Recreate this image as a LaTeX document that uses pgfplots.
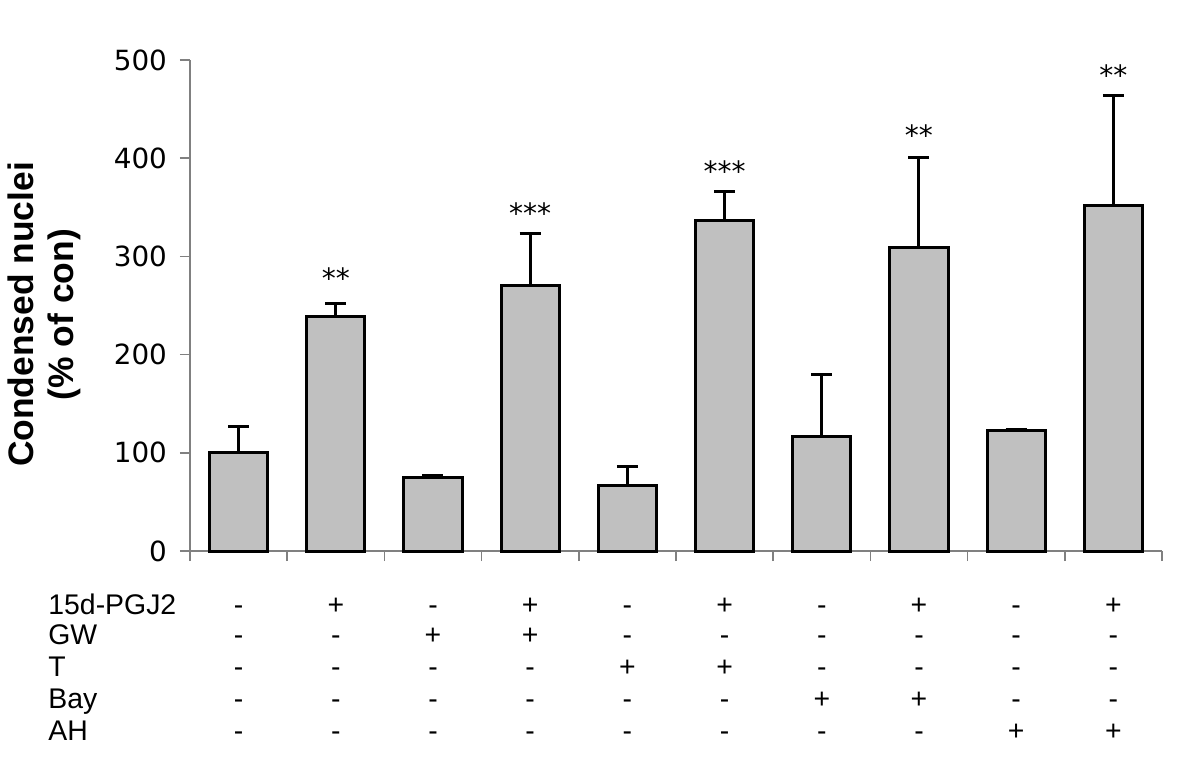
\documentclass[border=0pt]{standalone}
\usepackage{fontspec}
\setmainfont{Liberation Sans}
\newfontfamily\dejavu{DejaVu Sans}
\usepackage{pgfplots}
\pgfplotsset{compat=1.18}
\definecolor{bargray}{RGB}{192,192,192}
\definecolor{axgray}{RGB}{128,128,128}
\newcommand\tf{\fontsize{14.2}{16}\selectfont}
\tikzset{tb/.style={anchor=base, inner sep=0pt, font=\tf}}
\begin{document}
\begin{tikzpicture}
\path[use as bounding box] (-95pt,-105pt) rectangle (505pt,275.5pt);
\begin{axis}[
  at={(0,0)}, anchor=south west,
  scale only axis, width=486pt, height=245.5pt,
  xmin=-0.5, xmax=9.5, ymin=0, ymax=500,
  axis x line*=bottom, axis y line*=left,
  axis line style={-, draw=axgray, line width=0.8pt},
  xtick={-0.5,0.5,...,9.5}, xticklabel=\empty,
  ytick={0,100,...,500},
  tick align=outside, major tick length=5pt,
  tick style={draw=axgray, line width=0.8pt},
  /pgf/number format/assume math mode=true,
  yticklabel style={font=\dejavu\fontsize{13.9}{16}\selectfont, text=black, xshift=-3pt},
  ybar, bar width=0.6,
  clip=false,
]
\addplot[fill=bargray, draw=black, line width=1.5pt,
  error bars/.cd, y dir=plus, y explicit,
  error bar style={line width=1.5pt, black},
  error mark options={rotate=90, mark size=5.25pt, line width=1.5pt, black}]
coordinates {
 (0,100.5) +- (0,26)
 (1,238.3) +- (0,14)
 (2,75)    +- (0,2)
 (3,270)   +- (0,53.5)
 (4,66.2)  +- (0,19.5)
 (5,337)   +- (0,29.5)
 (6,116.1) +- (0,64)
 (7,308.6) +- (0,92.5)
 (8,123.2) +- (0,1)
 (9,352.3) +- (0,111.5)
};
% significance marks
\node[anchor=base, font=\dejavu\fontsize{14}{16}\selectfont] at (axis cs:1,267.8) {**};
\node[anchor=base, font=\dejavu\fontsize{14}{16}\selectfont] at (axis cs:3,334) {***};
\node[anchor=base, font=\dejavu\fontsize{14}{16}\selectfont] at (axis cs:5,375.8) {***};
\node[anchor=base, font=\dejavu\fontsize{14}{16}\selectfont] at (axis cs:7,413.4) {**};
\node[anchor=base, font=\dejavu\fontsize{14}{16}\selectfont] at (axis cs:9,474.5) {**};
% y label
\node[rotate=90, align=center, font=\bfseries\fontsize{17.7}{20}\selectfont] at (axis cs:-2.002,240.8) {Condensed nuclei\\(\% of con)};
% treatment table: row labels
\node[tb, anchor=base west] at (axis cs:-1.961,-64.2) {15d-PGJ2};
\node[tb, anchor=base west] at (axis cs:-1.961,-95.7) {GW};
\node[tb, anchor=base west] at (axis cs:-1.961,-128.3) {T};
\node[tb, anchor=base west] at (axis cs:-1.961,-159.9) {Bay};
\node[tb, anchor=base west] at (axis cs:-1.961,-192.5) {AH};
% row 15d-PGJ2
\node[tb] at (axis cs:0,-64.2) {-};
\node[tb] at (axis cs:1,-64.2) {+};
\node[tb] at (axis cs:2,-64.2) {-};
\node[tb] at (axis cs:3,-64.2) {+};
\node[tb] at (axis cs:4,-64.2) {-};
\node[tb] at (axis cs:5,-64.2) {+};
\node[tb] at (axis cs:6,-64.2) {-};
\node[tb] at (axis cs:7,-64.2) {+};
\node[tb] at (axis cs:8,-64.2) {-};
\node[tb] at (axis cs:9,-64.2) {+};
% row GW
\node[tb] at (axis cs:0,-95.7) {-};
\node[tb] at (axis cs:1,-95.7) {-};
\node[tb] at (axis cs:2,-95.7) {+};
\node[tb] at (axis cs:3,-95.7) {+};
\node[tb] at (axis cs:4,-95.7) {-};
\node[tb] at (axis cs:5,-95.7) {-};
\node[tb] at (axis cs:6,-95.7) {-};
\node[tb] at (axis cs:7,-95.7) {-};
\node[tb] at (axis cs:8,-95.7) {-};
\node[tb] at (axis cs:9,-95.7) {-};
% row T
\node[tb] at (axis cs:0,-128.3) {-};
\node[tb] at (axis cs:1,-128.3) {-};
\node[tb] at (axis cs:2,-128.3) {-};
\node[tb] at (axis cs:3,-128.3) {-};
\node[tb] at (axis cs:4,-128.3) {+};
\node[tb] at (axis cs:5,-128.3) {+};
\node[tb] at (axis cs:6,-128.3) {-};
\node[tb] at (axis cs:7,-128.3) {-};
\node[tb] at (axis cs:8,-128.3) {-};
\node[tb] at (axis cs:9,-128.3) {-};
% row Bay
\node[tb] at (axis cs:0,-159.9) {-};
\node[tb] at (axis cs:1,-159.9) {-};
\node[tb] at (axis cs:2,-159.9) {-};
\node[tb] at (axis cs:3,-159.9) {-};
\node[tb] at (axis cs:4,-159.9) {-};
\node[tb] at (axis cs:5,-159.9) {-};
\node[tb] at (axis cs:6,-159.9) {+};
\node[tb] at (axis cs:7,-159.9) {+};
\node[tb] at (axis cs:8,-159.9) {-};
\node[tb] at (axis cs:9,-159.9) {-};
% row AH
\node[tb] at (axis cs:0,-192.5) {-};
\node[tb] at (axis cs:1,-192.5) {-};
\node[tb] at (axis cs:2,-192.5) {-};
\node[tb] at (axis cs:3,-192.5) {-};
\node[tb] at (axis cs:4,-192.5) {-};
\node[tb] at (axis cs:5,-192.5) {-};
\node[tb] at (axis cs:6,-192.5) {-};
\node[tb] at (axis cs:7,-192.5) {-};
\node[tb] at (axis cs:8,-192.5) {+};
\node[tb] at (axis cs:9,-192.5) {+};
\end{axis}
\end{tikzpicture}
\end{document}
